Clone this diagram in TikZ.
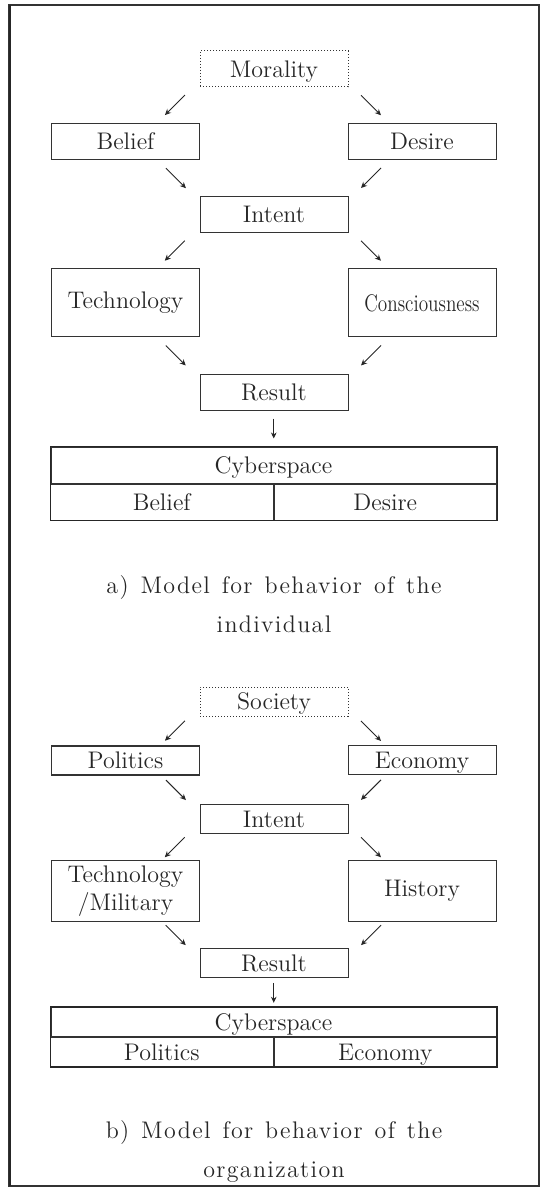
\documentclass[tikz,border=0pt]{standalone}
\usepackage{fontspec}
\usepackage{graphicx}
\newfontfamily\capfont{lmroman12-regular.otf}[LetterSpace=5.6,WordSpace=1.3]
\usetikzlibrary{calc,arrows.meta}
\begin{document}
\begin{tikzpicture}[x=0.5pt,y=-0.5pt,
    box/.style={draw=black!80,line width=0.5pt,inner sep=0pt,align=center,
      minimum width=74pt,text=black!85},
    oneline/.style={text height=8.4pt,text depth=0.2pt},
    dotbox/.style={box,oneline,densely dotted},
    heavybox/.style={box,oneline,line width=0.9pt},
    arr/.style={-{Stealth[length=3pt,width=2.8pt]},line width=0.45pt,black!85},
    capt/.style={align=center,text=black!85,
      font=\capfont\fontsize{12}{19.5}\selectfont},
    every node/.style={font=\fontsize{12}{14}\selectfont}]
  \useasboundingbox (0,0) rectangle (540,1187);
  % outer frame
  \draw[black!80,line width=0.6pt] (9,5) rectangle (539,1186);
  \draw[black!85,line width=1pt] (9.5,5) -- (9.5,1186);
  \foreach \p/\yo/\sy/\hs/\hl/\tn/\lt/\rt/\lo/\ro/\cp/\tw in {
      a/51/1/18/34/Morality/Belief/Desire/Technology/{\scalebox{0.8}[1]{Consciousness}}/{a) Model for behavior of the\\individual}/0.5,
      b/687/0.81/14.5/30.5/Society/Politics/Economy/{Technology\\/Military}/History/{b) Model for behavior of the\\organization}/0.9}{
    % the boxes, top to bottom
    \node[dotbox,minimum height=\hs pt] (top\p) at (274,{\yo+18*\sy}) {\tn};
    \node[heavybox,minimum height=\hs pt] (lt\p) at (125.5,{\yo+90.5*\sy}) {\lt};
    \node[box,oneline,minimum height=\hs pt] (rt\p) at (422,{\yo+90.5*\sy}) {\rt};
    \node[box,oneline,minimum height=\hs pt] (int\p) at (274,{\yo+163.5*\sy}) {Intent};
    \node[box,minimum height=\hl pt] (lo\p) at (125.5,{\yo+252*\sy}) {\lo};
    \node[box,minimum height=\hl pt] (ro\p) at (422,{\yo+252*\sy}) {\ro};
    \node[box,oneline,minimum height=\hs pt] (res\p) at (274,{\yo+341*\sy}) {Result};
    % the cyberspace table
    \node[box,oneline,minimum width=222.5pt,minimum height=\hs pt] (cyb\p)
      at (273.5,{\yo+414*\sy}) {Cyberspace};
    \node[box,oneline,minimum width=111.25pt,minimum height=\hs pt,anchor=north east]
      (cl\p) at (cyb\p.south) {\lt};
    \node[box,oneline,minimum width=111.25pt,minimum height=\hs pt,anchor=north west]
      (cr\p) at (cyb\p.south) {\rt};
    \draw[black!85,line width=\tw pt] (cyb\p.north west) rectangle (cr\p.south east);
    % short arrows in the gaps
    \foreach \u/\l in {top/lt,int/lo}{
      \draw[arr] ($(\u\p.south west)!.5!(\l\p.north east)+(-15,-10)$) -- +(-20,20);
    }
    \foreach \u/\l in {top/rt,int/ro}{
      \draw[arr] ($(\u\p.south east)!.5!(\l\p.north west)+(13,-10)$) -- +(20,20);
    }
    \foreach \u/\l in {lt/int,lo/res}{
      \draw[arr] ($(\u\p.south east)!.5!(\l\p.north west)+(-34,-10)$) -- +(20,20);
    }
    \foreach \u/\l in {rt/int,ro/res}{
      \draw[arr] ($(\u\p.south west)!.5!(\l\p.north east)+(33,-10)$) -- +(-20,20);
    }
    \draw[arr] ($(res\p.south)!.5!(cyb\p.north)+(0,-10)$) -- +(0,20);
    % caption
    \node[capt] (cap\p) at (274,{\yo+468*\sy+85}) {\cp};
  }
\end{tikzpicture}
\end{document}
